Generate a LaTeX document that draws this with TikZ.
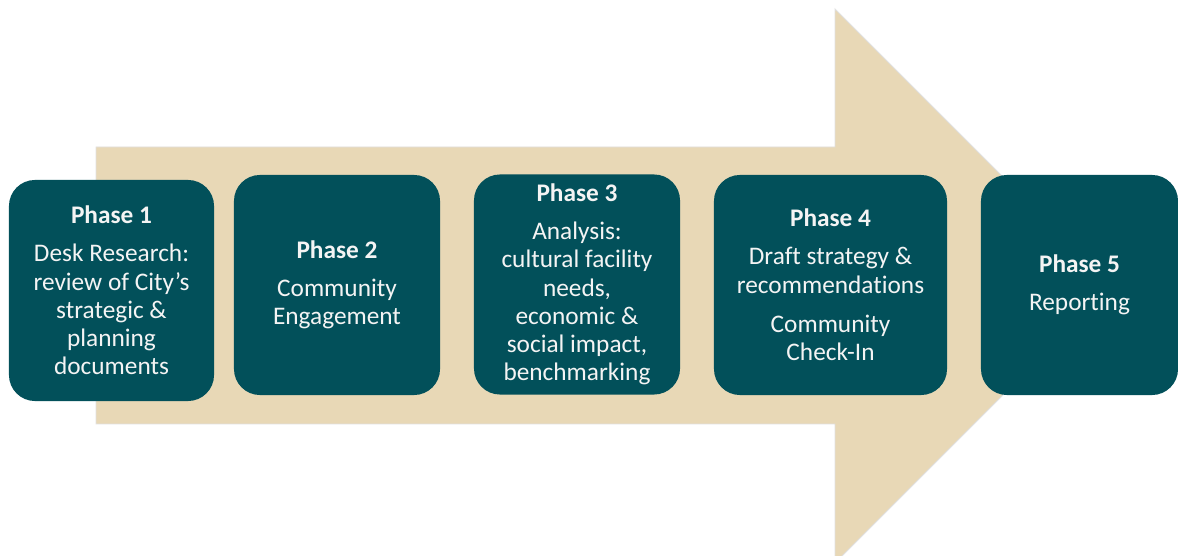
\documentclass[tikz,border=0pt]{standalone}
\usepackage{fontspec}
\setmainfont{Carlito}[Ligatures=NoCommon]
\definecolor{teal}{HTML}{02505A}
\definecolor{beige}{HTML}{E8D8B6}
\definecolor{txt}{HTML}{F4F4F4}
\begin{document}
\begin{tikzpicture}[x=0.025cm,y=-0.025cm,
  phase/.style={fill=teal, rounded corners=0.65cm, text=txt, align=center,
    inner sep=0pt, minimum height=5.5cm, font=\fontsize{18}{20.1}\selectfont}]
\useasboundingbox (0,0) rectangle (1178,556);
\clip (0,0) rectangle (1178,556);
\fill[white] (0,0) rectangle (1178,556);
\draw[fill=beige, draw=black!12, line width=0.6pt]
  (96,147) -- (835,147) -- (835,9) -- (1112,286) -- (835,563) -- (835,424) -- (96,424) -- cycle;
\node[phase, minimum width=5.125cm, minimum height=5.525cm] (p1) at (111.5,290.5)
  {\textbf{Phase 1}\\[7pt]Desk Research:\\review of City’s\\strategic \&\\planning\\documents};
\node[phase, minimum width=5.15cm] (p2) at (337,285)
  {\textbf{Phase 2}\\[7pt]Community\\Engagement};
\node[phase, minimum width=5.15cm] (p3) at (577,284.5)
  {\textbf{Phase 3}\\[7pt]Analysis:\\cultural facility\\needs,\\economic \&\\social impact,\\benchmarking};
\node[phase, minimum width=5.825cm] (p4) at (830.5,285)
  {\textbf{Phase 4}\\[7pt]Draft strategy \&\\recommendations\\[8pt]Community\\Check-In};
\node[phase, minimum width=4.925cm] (p5) at (1079.5,285)
  {\textbf{Phase 5}\\[7pt]Reporting};
\end{tikzpicture}
\end{document}
